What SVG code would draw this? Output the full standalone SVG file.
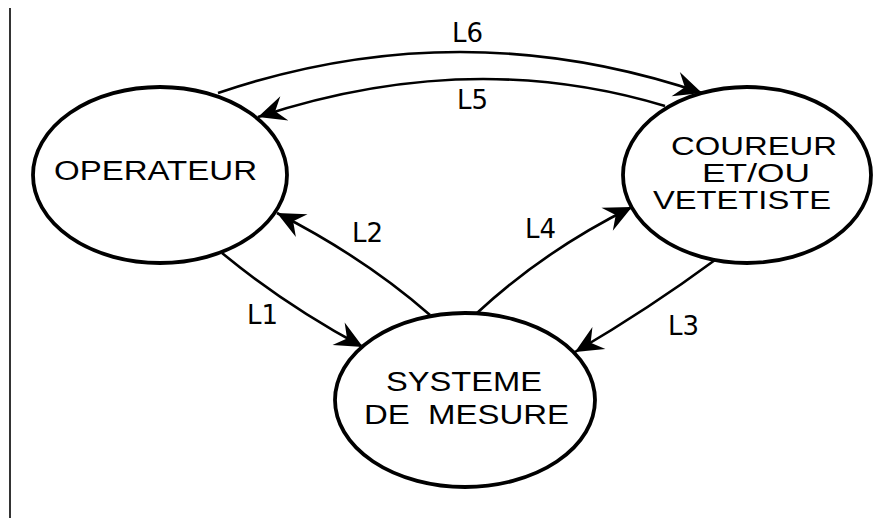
<svg xmlns="http://www.w3.org/2000/svg" width="873" height="518" viewBox="0 0 873 518">
<style>
.node ellipse{fill:#fff;stroke:#000;stroke-width:3.8}
.nt{font-family:"Liberation Sans",Arial,sans-serif;font-size:27px;fill:#000}
.sm{font-size:25px}
.lbl{font-family:"DejaVu Sans",Verdana,sans-serif;font-size:26px;fill:#000}
.conn path{fill:none;stroke:#000;stroke-width:2.6;marker-end:url(#arr)}
</style>
<defs>
<marker id="arr" markerUnits="userSpaceOnUse" markerWidth="32" markerHeight="32" viewBox="-28 -14 30 28" refX="0" refY="0" orient="auto">
<path d="M0,0 L-26,-12 L-17,0 L-26,12 Z" fill="#000"/>
</marker>
</defs>
<rect width="873" height="518" fill="#fff"/>
<line x1="10" y1="8" x2="10" y2="518" stroke="#000" stroke-width="1.6"/>
<g class="conn">
<path d="M218,93 Q460,11 702,93"/>
<path d="M665,106 Q470,47 258,117"/>
<path d="M430,315 Q365,258 277,213"/>
<path d="M222,253 Q285,305 363,347"/>
<path d="M477,313 Q545,250 632,207"/>
<path d="M715,260 Q650,308 575,352"/>
</g>
<g id="operateur" class="node">
<ellipse cx="160" cy="175" rx="127" ry="88"/>
<text class="nt" x="54" y="180" textLength="203" lengthAdjust="spacingAndGlyphs">OPERATEUR</text>
</g>
<g id="coureur" class="node">
<ellipse cx="747" cy="175" rx="124" ry="88"/>
<text class="nt sm" x="671" y="155" textLength="166" lengthAdjust="spacingAndGlyphs">COUREUR</text>
<text class="nt sm" x="702" y="182" textLength="108" lengthAdjust="spacingAndGlyphs">ET/OU</text>
<text class="nt sm" x="653" y="209" textLength="178" lengthAdjust="spacingAndGlyphs">VETETISTE</text>
</g>
<g id="systeme" class="node">
<ellipse cx="465" cy="400" rx="130" ry="87"/>
<text class="nt" x="386" y="391" textLength="156" lengthAdjust="spacingAndGlyphs">SYSTEME</text>
<text class="nt" x="364" y="424" textLength="205" lengthAdjust="spacingAndGlyphs" xml:space="preserve">DE  MESURE</text>
</g>
<g id="labels">
<text class="lbl" x="452" y="42">L6</text>
<text class="lbl" x="457" y="109">L5</text>
<text class="lbl" x="352" y="242">L2</text>
<text class="lbl" x="525" y="238">L4</text>
<text class="lbl" x="247" y="324">L1</text>
<text class="lbl" x="668" y="335">L3</text>
</g>
</svg>
